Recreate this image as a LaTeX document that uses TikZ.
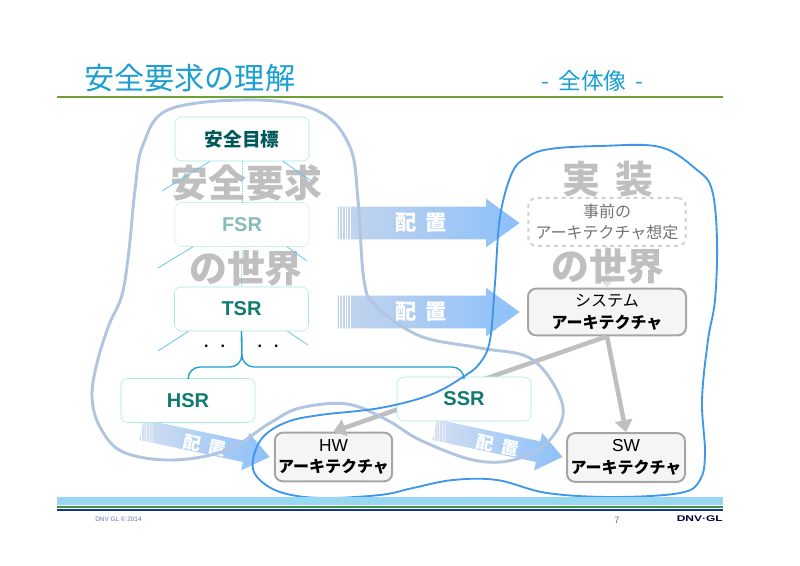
\documentclass[tikz,border=0pt]{standalone}
\usepackage{fontspec}
\usepackage{xcolor}
\usepackage{tikz}
\usetikzlibrary{arrows.meta, positioning, calc, shapes.arrows}
\setmainfont{Liberation Sans}
\newfontfamily\cjk{Noto Sans CJK JP}
\definecolor{titleblue}{HTML}{1A9FD0}
\definecolor{rulegreen}{HTML}{6FA035}
\definecolor{bandblue}{HTML}{97D7F0}
\definecolor{bandgreen}{HTML}{3D9140}
\definecolor{bandnavy}{HTML}{0F3A8C}
\definecolor{reqteal}{HTML}{0F7A70}
\definecolor{reqedge}{HTML}{A6E8E0}
\definecolor{fanblue}{HTML}{6CC4EC}
\definecolor{reqblob}{HTML}{B2C5E0}
\definecolor{implblob}{HTML}{3F96EA}
\definecolor{bigtext}{HTML}{BFBFBF}
\definecolor{mapblue}{HTML}{8CC0FA}
\definecolor{mapfade}{HTML}{C4D5EC}
\definecolor{mapfadelow}{HTML}{D3DEF0}

\begin{document}
\begin{tikzpicture}[x=0.75pt, y=-0.75pt, every node/.style={font=\cjk, inner sep=0pt},
  reqbox/.style={draw=reqedge, rounded corners=5pt, fill=white, minimum width=100.5pt, minimum height=33pt, align=center, text=reqteal, font=\fontsize{15}{17}\bfseries},
  archbox/.style={draw=black!35, line width=1.5pt, rounded corners=6pt, fill=black!4, align=center, font=\cjk\fontsize{12}{16.2}\selectfont},
  bigword/.style={text=bigtext, font=\cjk\fontsize{28.4}{32}\bfseries},
  placearrow/.style={single arrow, anchor=tip, left color=#1, right color=mapblue,
    path picture={\foreach \off in {1.5,3.5,5.5,7.5,9.5}
      \draw[white, line width=0.5pt] ([xshift=\off pt]path picture bounding box.south west) -- ([xshift=\off pt]path picture bounding box.north west);}},
  mainarrow/.style={placearrow=mapfade, minimum width=36pt, minimum height=136.5pt, single arrow head extend=6pt, single arrow tip angle=72},
  lowarrow/.style={placearrow=mapfadelow, minimum width=28.5pt, minimum height=98pt, single arrow head extend=6.5pt, single arrow tip angle=75, rotate=-12},
  mainlabel/.style={text=white, font=\cjk\fontsize{16}{18}\bfseries},
  lowlabel/.style={text=white, font=\cjk\fontsize{13}{15}\bfseries, rotate=-12},
  fan/.style={draw=fanblue, line width=0.6pt},
  bus/.style={draw=titleblue, line width=1pt, rounded corners=9pt},
  gray link/.style={draw=bigtext, line width=3.4pt, -{Triangle[length=9pt, width=13pt]}}]
  \useasboundingbox (0,0) rectangle (800,566);

  \node[text=titleblue, font=\cjk\fontsize{22.6}{26}\selectfont, anchor=west] (title) at (84,78) {安全要求の理解};
  \node[text=titleblue, font=\cjk\fontsize{17}{20}\selectfont, anchor=west] (subtitle) at (541,81) {-\hspace{7pt}全体像\hspace{7pt}-};
  \fill[rulegreen] (57,96) rectangle (723,98);

  \node[mainarrow] (mapfsr) at (520,223) {\rule{0pt}{24pt}};
  \node[mainarrow] (maptsr) at (520,312) {\rule{0pt}{24pt}};
  \node[lowarrow] (maphsr) at (270,457) {\rule{0pt}{15.4pt}};
  \node[lowarrow] (mapssr) at (563,457) {\rule{0pt}{15.4pt}};
  \node[mainlabel] (mapfsrtxt) at (421,223) {配\hspace{6pt}置};
  \node[mainlabel] (maptsrtxt) at (421,312) {配\hspace{6pt}置};
  \node[lowlabel] (maphsrtxt) at (205,446) {配\hspace{6pt}置};
  \node[lowlabel] (mapssrtxt) at (498,446) {配\hspace{6pt}置};

  \node[archbox, draw=black!18, dashed, fill=white, minimum width=118pt, minimum height=36pt, text=black!55] (preset) at (607,222) {事前の\\アーキテクチャ想定};
  \node[archbox, minimum width=118.5pt, minimum height=35pt] (sysarch) at (607,312) {システム\\\bfseries アーキテクチャ};
  \node[archbox, minimum width=88pt, minimum height=36.5pt] (hwarch) at (333.5,457) {{\fontspec{Liberation Sans}\fontsize{13}{16.2}\selectfont HW}\\\bfseries アーキテクチャ};
  \node[archbox, minimum width=88.5pt, minimum height=36.5pt] (swarch) at (626,457.5) {{\fontspec{Liberation Sans}\fontsize{13}{16.2}\selectfont SW}\\\bfseries アーキテクチャ};
  \draw[draw=black!12, line width=3pt, -{Triangle[length=7pt, width=11pt]}] (preset.south) -- (sysarch.north);
  \draw[gray link] (sysarch.south) -- (swarch.north);
  \draw[gray link] (sysarch.south) -- (hwarch.north);

  \node[bigword] (reqword) at (246.5,183) {安全要求};
  \node[bigword] (reqworld) at (246,268) {の世界};
  \node[bigword] (implword) at (608,179) {実\hspace{12pt}装};
  \node[bigword] (implworld) at (608,266) {の世界};

  \node[reqbox, text=teal!70!black, font=\cjk\fontsize{14}{16}\bfseries] (goal) at (242,139) {安全目標};
  \node[reqbox, draw=reqedge!60, text=reqteal!50!white] (fsr) at (242,224.5) {FSR};
  \node[reqbox] (tsr) at (241.5,309) {\raisebox{-1pt}{TSR}};
  \node[reqbox] (hsr) at (188,400.5) {\raisebox{-1pt}{HSR}};
  \node[reqbox] (ssr) at (464,399) {\raisebox{-1pt}{SSR}};

  \coordinate (goalleft) at (162,191);
  \coordinate (goalright) at (310,180);
  \coordinate (fsrleft) at (158,268);
  \coordinate (fsrright) at (307,261);
  \coordinate (tsrleft) at (158,351);
  \coordinate (tsrright) at (308,345);
  \coordinate (busjoin) at (242,367);
  \draw[fan, densely dotted] (goal.south) -- (fsr.north);
  \draw[fan, densely dotted] (fsr.south) -- (tsr.north);
  \draw[fan] (goal.south)++(-32,0) -- (goalleft);
  \draw[fan] (goal.south)++(41,0) -- (goalright);
  \draw[fan] (fsr.south)++(-49,0) -- (fsrleft);
  \draw[fan] (fsr.south)++(45,0) -- (fsrright);
  \draw[fan] (tsr.south)++(-53,0) -- (tsrleft);
  \draw[fan] (tsr.south)++(46,0) -- (tsrright);
  \draw[bus] (tsr.south) -- (busjoin) -| (hsr.north);
  \draw[bus] (tsr.south) -- (busjoin) -| (ssr.north);

  \node[font=\fontsize{12}{12}\bfseries] (dotsleft) at (214.5,346) {.\hspace{9pt}.};
  \node[font=\fontsize{12}{12}\bfseries] (dotsright) at (268,346) {.\hspace{9pt}.};

  \draw[reqblob, line width=2.2pt] plot[smooth cycle, tension=0.6] coordinates {(170,109) (257,100) (320,112) (350,147) (358,200) (364,280) (376,306) (420,336) (480,348) (533,360) (563,407) (547,443) (513,460) (473,460) (420,440) (387,420) (347,404) (300,408) (270,423) (227,450) (173,460) (123,452) (100,427) (92,397) (97,363) (109,325) (122,295) (129,250) (135,190) (143,145)};
  \draw[implblob, line width=1.4pt] plot[smooth cycle, tension=0.6] coordinates {(600,146) (660,147) (697,170) (712,190) (717,240) (715,300) (708,340) (702,400) (705,453) (700,480) (680,493) (613,497) (547,493) (497,480) (453,480) (413,488) (380,495) (320,498) (280,492) (257,477) (253,460) (263,437) (287,422) (320,415) (380,408) (430,395) (463,377) (480,363) (490,340) (495,283) (500,217) (512,173) (527,157) (550,149)};

  \fill[bandblue] (57,497) rectangle (723,505);
  \fill[bandgreen] (57,506) rectangle (723,508.5);
  \fill[bandnavy] (57,509) rectangle (723,511.5);
  \node[text=bandnavy!70!white, font=\fontsize{4.8}{5}\selectfont, anchor=west] (copyright) at (95,519) {DNV GL © 2014};
  \node[text=bandnavy!70!white, font=\fontsize{7}{8}\selectfont] (pageno) at (617,520) {7};
  \node[text=black!75!blue, font=\fontsize{6.2}{7}\bfseries, anchor=east] (logo) at (723,519) {\scalebox{1.45}[1]{DNV·GL}};
\end{tikzpicture}
\end{document}
